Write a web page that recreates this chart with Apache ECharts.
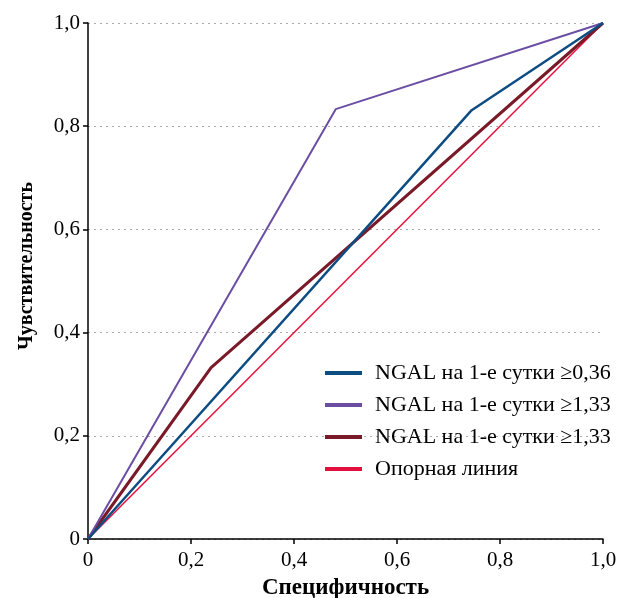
<!DOCTYPE html>
<html><head><meta charset="utf-8">
<script src="https://cdn.jsdelivr.net/npm/echarts@6/dist/echarts.min.js"></script>
<style>html,body{margin:0;padding:0;background:#fff}#c{width:617px;height:598px}</style>
</head><body><div id="c"></div>
<script>
const seriesNames = ['NGAL на 1-е сутки ≥0,36','NGAL на 1-е сутки ≥1,33','NGAL на 1-е сутки ≥1,33','Опорная линия'];
const blueX = [0, 0.745, 1], blueY = [0, 0.831, 1];
const purpleX = [0, 0.481, 1], purpleY = [0, 0.833, 1];
const darkRedX = [0, 0.239, 1], darkRedY = [0, 0.332, 1];
const refX = [0, 1], refY = [0, 1];
const ticks = [0, 0.2, 0.4, 0.6, 0.8, 1.0];
const colors = ['#0d4d84', '#6b4ea3', '#7a1a28', '#e3103d'];
const widths = [2.5, 2, 3, 1.5];

const pairs = (xs, ys) => xs.map((x, i) => [x, ys[i]]);
const data = [pairs(blueX, blueY), pairs(purpleX, purpleY), pairs(darkRedX, darkRedY), pairs(refX, refY)];
const fmt = v => v === 0 ? '0' : v.toFixed(1).replace('.', ',');
const font = '"Liberation Serif", "DejaVu Serif", serif';

const axisCommon = {
  type: 'value', min: 0, max: 1, interval: 0.2,
  axisLine: { show: true, lineStyle: { color: '#000', width: 1.5 } },
  axisTick: { show: true, inside: false, length: 5, lineStyle: { color: '#000', width: 1.5 } },
  axisLabel: { formatter: fmt, color: '#000', fontSize: 21, fontFamily: font },
  nameTextStyle: { color: '#000', fontWeight: 'bold', fontFamily: font }
};

const chart = echarts.init(document.getElementById('c'), null, { renderer: 'canvas' });
chart.setOption({
  animation: false,
  backgroundColor: '#fff',
  grid: { left: 88, right: 14, top: 23, bottom: 59, containLabel: false, outerBoundsMode: 'none' },
  xAxis: Object.assign({}, axisCommon, {
    name: 'Специфичность', nameLocation: 'middle', nameGap: 38,
    nameTextStyle: Object.assign({}, axisCommon.nameTextStyle, { fontSize: 23 }),
    splitLine: { show: false },
    axisLabel: Object.assign({}, axisCommon.axisLabel, { margin: 11 })
  }),
  yAxis: Object.assign({}, axisCommon, {
    name: 'Чувствительность', nameLocation: 'middle', nameGap: 51,
    nameTextStyle: Object.assign({}, axisCommon.nameTextStyle, { fontSize: 20, padding: [0, 0, 0, 30] }),
    splitLine: { show: true, lineStyle: { color: '#aaa', type: [2, 4], width: 1 } },
    axisLabel: Object.assign({}, axisCommon.axisLabel, { margin: 8 })
  }),
  legend: {
    orient: 'vertical', left: 320, top: 357,
    itemWidth: 37, itemHeight: 4, itemGap: 10,
    icon: 'rect',
    textStyle: { color: '#000', fontSize: 22, fontFamily: font, padding: [0, 0, 0, 8] },
    data: seriesNames.map((n, i) => ({ name: n + (i === 2 ? '\u200b' : '') }))
  },
  series: data.map((d, i) => ({
    type: 'line', name: seriesNames[i] + (i === 2 ? '\u200b' : ''),
    data: d, symbol: 'none', color: colors[i],
    lineStyle: { color: colors[i], width: widths[i] },
    z: 10 - i
  }))
});
</script></body></html>
